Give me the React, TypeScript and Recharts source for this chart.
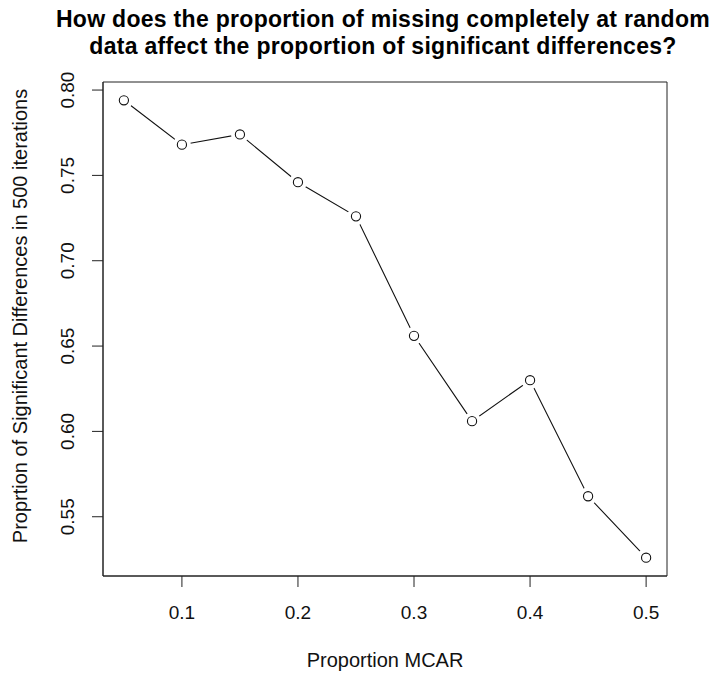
import React from 'react';
import { LineChart, Line, XAxis, YAxis, ReferenceArea } from 'recharts';

const proportionMCAR = [0.05, 0.1, 0.15, 0.2, 0.25, 0.3, 0.35, 0.4, 0.45, 0.5];
const proportionSignificant = [0.794, 0.768, 0.774, 0.746, 0.726, 0.656, 0.606, 0.63, 0.562, 0.526];
const xTicks = [0.1, 0.2, 0.3, 0.4, 0.5];
const yTicks = [0.55, 0.6, 0.65, 0.7, 0.75, 0.8];

const data = proportionMCAR.map((x, i) => ({ x, y: proportionSignificant[i] }));

const FONT = '"Liberation Sans", Arial, Helvetica, sans-serif';
const X_DOMAIN: [number, number] = [0.032, 0.518];
const Y_DOMAIN: [number, number] = [0.51528, 0.80472];

const Dot = (props: any) => {
  const { cx, cy } = props;
  if (cx == null || cy == null) return null;
  return (
    <g>
      <circle cx={cx} cy={cy} r={9} fill="#fff" stroke="none" />
      <circle cx={cx} cy={cy} r={4.6} fill="none" stroke="#111" strokeWidth={1.1} />
    </g>
  );
};

const XTick = (props: any) => {
  const { x, payload } = props;
  return (
    <text x={x} y={619} textAnchor="middle" fontFamily={FONT} fontSize={19} fill="#111">
      {payload.value.toFixed(1)}
    </text>
  );
};

const YTick = (props: any) => {
  const { y, payload } = props;
  return (
    <text
      x={74}
      y={y}
      textAnchor="middle"
      fontFamily={FONT}
      fontSize={19}
      fill="#111"
      transform={`rotate(-90, 74, ${y})`}
    >
      {payload.value.toFixed(2)}
    </text>
  );
};

export default function App() {
  return (
    <div style={{ position: 'absolute', left: 0, top: 0, width: 714, height: 673, background: '#fff' }}>
      <div
        style={{
          position: 'absolute',
          left: 383 - 400,
          width: 800,
          top: 6,
          textAlign: 'center',
          fontFamily: FONT,
          fontWeight: 'bold',
          fontSize: 23,
          letterSpacing: '0.3px',
          lineHeight: '27px',
          color: '#000',
          whiteSpace: 'nowrap',
        }}
      >
        How does the proportion of missing completely at random
        <br />
        data affect the proportion of significant differences?
      </div>
      <LineChart
        width={714}
        height={673}
        data={data}
        margin={{ top: 82, right: 47, bottom: 0, left: 0 }}
        style={{ position: 'absolute', left: 0, top: 0 }}
      >
        <XAxis
          dataKey="x"
          type="number"
          domain={X_DOMAIN}
          ticks={xTicks}
          height={97}
          tick={<XTick />}
          tickSize={11}
          tickLine={{ stroke: '#222', strokeWidth: 1 }}
          axisLine={{ stroke: '#222', strokeWidth: 1 }}
          allowDataOverflow
        />
        <YAxis
          dataKey="y"
          type="number"
          domain={Y_DOMAIN}
          ticks={yTicks}
          width={103}
          tick={<YTick />}
          tickSize={11}
          tickLine={{ stroke: '#222', strokeWidth: 1 }}
          axisLine={{ stroke: '#222', strokeWidth: 1 }}
          allowDataOverflow
        />
        <ReferenceArea
          x1={X_DOMAIN[0]}
          x2={X_DOMAIN[1]}
          y1={Y_DOMAIN[0]}
          y2={Y_DOMAIN[1]}
          fill="none"
          stroke="#222"
          strokeWidth={1}
          ifOverflow="extendDomain"
        />
        <Line
          dataKey="y"
          stroke="#111"
          strokeWidth={1.1}
          dot={<Dot />}
          activeDot={false}
          isAnimationActive={false}
        />
        <text
          x={385}
          y={667}
          textAnchor="middle"
          fontFamily={FONT}
          fontSize={20}
          fill="#111"
        >
          Proportion MCAR
        </text>
        <text
          x={27}
          y={316}
          textAnchor="middle"
          fontFamily={FONT}
          fontSize={20}
          fill="#111"
          transform="rotate(-90, 27, 316)"
        >
          Proprtion of Significant Differences in 500 iterations
        </text>
      </LineChart>
    </div>
  );
}
